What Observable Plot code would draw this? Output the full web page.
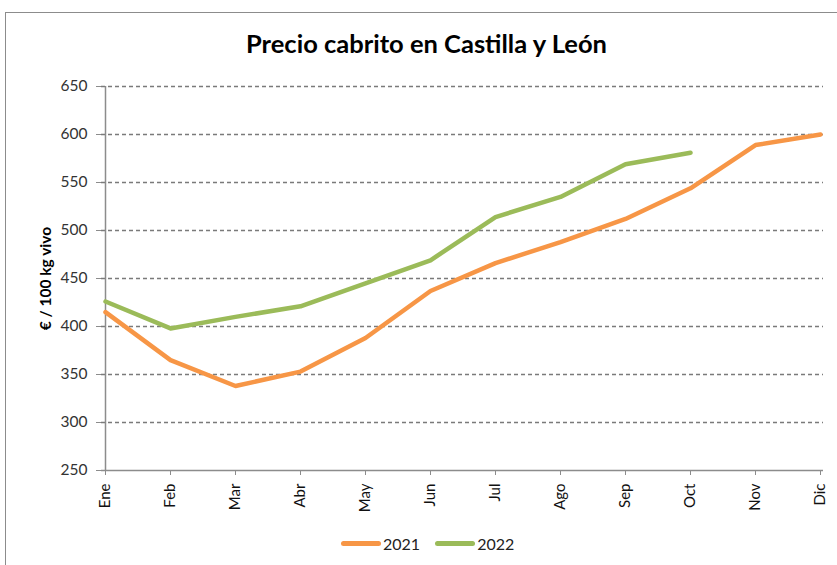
<!DOCTYPE html>
<html>
<head>
<meta charset="utf-8">
<script src="https://cdn.jsdelivr.net/npm/d3@7"></script>
<script src="https://cdn.jsdelivr.net/npm/@observablehq/plot@0.6"></script>
<style>
  html, body { margin: 0; padding: 0; background: #fff; overflow: hidden; }
  #page { position: relative; width: 837px; height: 565px; overflow: hidden;
          font-family: Lato, "Open Sans", sans-serif; }
  #frame { position: absolute; left: 5px; top: 12px; width: 840px; height: 560px;
           border: 1.5px solid #8c8c8c; box-sizing: border-box; }
  #title { position: absolute; left: 0; top: 28px; width: 837px; text-align: center;
           font-size: 25.5px; font-weight: bold; color: #000; padding-left: 16px; box-sizing: border-box; }
  #chart { position: absolute; left: 0; top: 0; }
  #legend { position: absolute; top: 534px; left: 341px; font-size: 16px; color: #222;
            display: flex; align-items: center; }
  .sw { display: inline-block; width: 40px; height: 5px; border-radius: 3px; margin-right: 2px; }
  .item { display: flex; align-items: center; margin-right: 15px; }
</style>
</head>
<body>
<div id="page">
  <div id="frame"></div>
  <div id="title">Precio cabrito en Castilla y León</div>
  <div id="chart"></div>
  <div id="legend">
    <div class="item"><span class="sw" style="background:#F79646"></span>2021</div>
    <div class="item"><span class="sw" style="background:#9BBB59"></span>2022</div>
  </div>
</div>
<script>
const months = ["Ene","Feb","Mar","Abr","May","Jun","Jul","Ago","Sep","Oct","Nov","Dic"];
const values2021 = [415, 365, 338, 353, 388, 437, 466, 488, 512, 544, 589, 600];
const values2022 = [426, 398, 410, 421, 445, 469, 514, 535, 569, 581];
const yTicks = [250, 300, 350, 400, 450, 500, 550, 600, 650];

const data2021 = values2021.map((v, i) => ({month: months[i], value: v}));
const data2022 = values2022.map((v, i) => ({month: months[i], value: v}));

const chart = Plot.plot({
  width: 837,
  height: 565,
  marginTop: 86,
  marginBottom: 95,
  marginLeft: 101,
  marginRight: 14,
  style: {fontFamily: 'Lato, "Open Sans", sans-serif', fontSize: "15px", color: "#222", background: "transparent"},
  x: {type: "point", domain: months, padding: 0, label: null},
  y: {domain: [250, 650], label: null},
  marks: [
    Plot.gridY(yTicks.filter(d => d > 250), {stroke: "#7a7a7a", strokeOpacity: 1, strokeWidth: 1.3, strokeDasharray: "4,3"}),
    Plot.ruleX([months[0]], {stroke: "#8c8c8c", strokeWidth: 1.5}),
    Plot.ruleY([250], {stroke: "#8c8c8c", strokeWidth: 1.5}),
    Plot.axisY(yTicks, {tickSize: 5, tickPadding: 9, stroke: "#8c8c8c", fontSize: 15.5, fill: "#333", label: null}),
    Plot.axisX(months, {tickSize: 5, tickPadding: 8, tickRotate: -90, stroke: "#8c8c8c", fontSize: 15, fill: "#111", label: null}),
    Plot.text(["€ / 100 kg vivo"], {frameAnchor: "left", textAnchor: "middle", dx: -55, rotate: -90, fontWeight: "bold", fontSize: 15.5, fill: "#000"}),
    Plot.line(data2021, {x: "month", y: "value", stroke: "#F79646", strokeWidth: 4.5, strokeLinejoin: "round", strokeLinecap: "round"}),
    Plot.line(data2022, {x: "month", y: "value", stroke: "#9BBB59", strokeWidth: 4.5, strokeLinejoin: "round", strokeLinecap: "round"})
  ]
});
document.getElementById("chart").appendChild(chart);
</script>
</body>
</html>
